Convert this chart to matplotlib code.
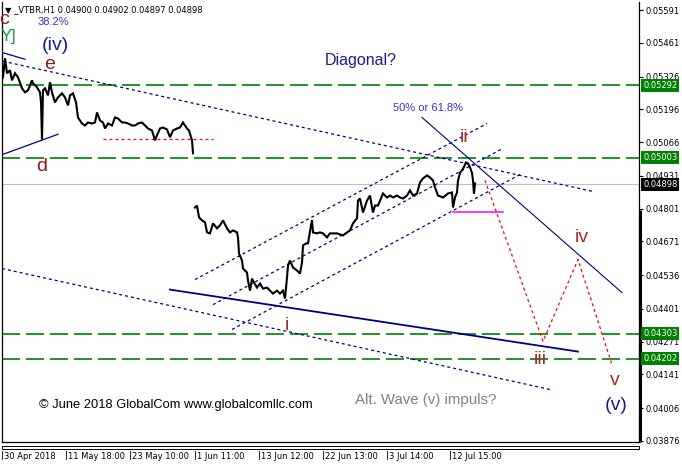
import matplotlib
matplotlib.use('Agg')
import matplotlib.pyplot as plt
from matplotlib.transforms import blended_transform_factory, ScaledTranslation
from matplotlib.patches import Rectangle

plt.rcParams['font.family'] = ['DejaVu Sans']
plt.rcParams['lines.scale_dashes'] = False

# ---------------- data ----------------
title_text = "\u25bc _VTBR,H1 0.04900 0.04902 0.04897 0.04898"

# H1 price path, first block (bar index, price)
bars_a = [3, 5, 7, 10, 12, 15, 18, 22, 25, 28, 32, 33, 37, 40, 41, 42, 43, 45, 48, 50,
          52, 55, 58, 62, 65, 68, 70, 73, 76, 78, 82, 85, 88, 92, 95, 97, 100, 103, 105,
          108, 112, 115, 118, 122, 125, 128, 132, 135, 138, 142, 145, 148, 152, 155, 157,
          160, 163, 167, 170, 173, 177, 180, 183, 187, 189, 192, 193]
price_a = [0.05324, 0.05400, 0.05340, 0.05352, 0.05312, 0.05340, 0.05324, 0.05280, 0.05264,
           0.05272, 0.05312, 0.05300, 0.05284, 0.05264, 0.05224, 0.05077, 0.05272, 0.05280,
           0.05252, 0.05304, 0.05264, 0.05224, 0.05244, 0.05260, 0.05244, 0.05212, 0.05252,
           0.05260, 0.05224, 0.05164, 0.05140, 0.05132, 0.05144, 0.05140, 0.05144, 0.05184,
           0.05152, 0.05144, 0.05120, 0.05140, 0.05132, 0.05164, 0.05160, 0.05144, 0.05144,
           0.05140, 0.05132, 0.05132, 0.05140, 0.05144, 0.05132, 0.05120, 0.05112, 0.05073,
           0.05093, 0.05120, 0.05124, 0.05116, 0.05085, 0.05112, 0.05120, 0.05124, 0.05144,
           0.05120, 0.05112, 0.05073, 0.05021]

# H1 price path, second block
bars_b = [195, 197, 199, 202, 205, 207, 210, 213, 217, 220, 223, 227, 230, 233, 237, 238,
          239, 242, 243, 247, 248, 250, 252, 254, 257, 260, 263, 267, 270, 273, 277, 280,
          283, 285, 287, 288, 290, 293, 297, 300, 302, 303, 306, 308, 311, 312, 313, 317,
          320, 323, 327, 330, 337, 343, 350, 353, 357, 358, 360, 363, 367, 370, 373, 375,
          378, 383, 387, 390, 393, 397, 400, 403, 407, 410, 413, 417, 420, 423, 427, 430,
          433, 435, 438, 443, 448, 452, 453, 455, 457, 458, 460, 463, 466, 468, 470, 472,
          473, 474, 475]
price_b = [0.04805, 0.04813, 0.04766, 0.04754, 0.04746, 0.04706, 0.04702, 0.04742, 0.04722,
           0.04734, 0.04754, 0.04722, 0.04706, 0.04714, 0.04706, 0.04686, 0.04622, 0.04594,
           0.04562, 0.04546, 0.04514, 0.04474, 0.04522, 0.04506, 0.04486, 0.04502, 0.04482,
           0.04486, 0.04474, 0.04462, 0.04474, 0.04462, 0.04474, 0.04442, 0.04526, 0.04574,
           0.04594, 0.04566, 0.04554, 0.04542, 0.04586, 0.04654, 0.04662, 0.04662, 0.04734,
           0.04754, 0.04706, 0.04702, 0.04706, 0.04702, 0.04686, 0.04702, 0.04702, 0.04694,
           0.04714, 0.04742, 0.04762, 0.04833, 0.04841, 0.04785, 0.04833, 0.04853, 0.04785,
           0.04813, 0.04813, 0.04861, 0.04845, 0.04853, 0.04845, 0.04853, 0.04845, 0.04841,
           0.04853, 0.04873, 0.04853, 0.04861, 0.04905, 0.04921, 0.04933, 0.04925, 0.04913,
           0.04885, 0.04853, 0.04845, 0.04861, 0.04865, 0.04805, 0.04845, 0.04865, 0.04913,
           0.04943, 0.04959, 0.04985, 0.04981, 0.04965, 0.04943, 0.04913, 0.04861, 0.04901]

price_ticks = [0.05591, 0.05461, 0.05326, 0.05196, 0.05066, 0.04931, 0.04801, 0.04671,
               0.04536, 0.04401, 0.04271, 0.04141, 0.04006, 0.03876]
time_tick_bars = [2, 66, 130, 195, 259, 323, 387, 450]
time_tick_labels = ["30 Apr 2018", "11 May 18:00", "23 May 10:00", "1 Jun 11:00",
                    "13 Jun 12:00", "22 Jun 13:00", "3 Jul 14:00", "12 Jul 15:00"]

level_prices = [0.05292, 0.05003, 0.04303, 0.04202]
current_price = 0.04898

# trend lines: (bar1, price1, bar2, price2)
dotted_lines = [
    (3, 0.05388, 593, 0.04869),
    (195, 0.04518, 487, 0.05140),
    (213, 0.04418, 503, 0.05041),
    (232, 0.04319, 522, 0.04941),
    (2, 0.04562, 550, 0.04080),
]
solid_lines = [
    (3, 0.05017, 58, 0.05097),
    (2, 0.05423, 25, 0.05396),
    (170, 0.04478, 578, 0.04231),
    (422, 0.05164, 622, 0.04466),
]
solid_widths = [0.9, 0.9, 1.3, 0.8]

magenta_line = (453, 0.04789, 503, 0.04789)
red_hline = (103, 0.05077, 213, 0.05077)
proj_bars = [485, 543, 578, 612]
proj_prices = [0.04913, 0.04272, 0.04598, 0.04179]
scroll_mark_top = 0.04795

# labels: (text, bar, price)
wave_labels = [
    ("c", 4, 0.05555), ("e", 50, 0.05376), ("d", 42, 0.04969),
    ("ii", 464, 0.05085), ("iv", 582, 0.04686), ("i", 287, 0.04335),
    ("iii", 540, 0.04199), ("v", 615, 0.04116),
]
degree_labels = [("(iv)", 55, 0.05451), ("(v)", 616, 0.04016)]
other_labels = [
    ("38.2%", 53, 0.05543), ("Y]", 8, 0.05487), ("Diagonal?", 361, 0.05392),
    ("50% or 61.8%", 428, 0.05200),
    ("\u00a9 June 2018 GlobalCom www.globalcomllc.com", 176, 0.04020),
    ("Alt. Wave (v) impuls?", 426, 0.04040),
]

# ---------------- styles ----------------
NAVY = '#000080'
GREEN = '#008000'
BROWN = '#A52A2A'
MAROON = '#8B1A1A'
PX = 0.72  # points per pixel at 100 dpi
other_styles = {
    "38.2%": ('#3535C8', 8), "Y]": ('#129A45', 12), "Diagonal?": ('#1C1C8C', 11.5),
    "50% or 61.8%": ('#3535C8', 8),
    "\u00a9 June 2018 GlobalCom www.globalcomllc.com": ('black', 9.3),
    "Alt. Wave (v) impuls?": ('#808080', 10.8),
}

W, H = 682, 469
fig = plt.figure(figsize=(W / 100, H / 100), dpi=100)
left_px, right_px, top_px, bot_px = 2, 639, 2, 442
ax = fig.add_axes([left_px / W, 1 - bot_px / H, (right_px - left_px) / W, (bot_px - top_px) / H])
k = 3.985e-5
ax.set_xlim(left_px, right_px)
ax.set_ylim(0.05591 - (bot_px - 10.3) * k, 0.05591 + (10.3 - top_px) * k)

# level lines
for p in level_prices:
    ax.axhline(p, color=GREEN, lw=1.2, dashes=(18 * PX, 6 * PX), zorder=2)
ax.axhline(current_price, color='#C0C0C0', lw=0.8, zorder=1)

# trend lines
for (b1, p1, b2, p2) in dotted_lines:
    ax.plot([b1, b2], [p1, p2], color=NAVY, lw=0.9, dashes=(3 * PX, 3 * PX), zorder=3)
for (b1, p1, b2, p2), w in zip(solid_lines, solid_widths):
    ax.plot([b1, b2], [p1, p2], color=NAVY, lw=w, zorder=3)
ax.plot(magenta_line[0::2], magenta_line[1::2], color='#FF00FF', lw=1.1, zorder=3)
ax.plot(red_hline[0::2], red_hline[1::2], color='#FF0000', lw=0.9, dashes=(3 * PX, 3 * PX), zorder=3)
ax.plot(proj_bars, proj_prices, color='#FF0000', lw=0.9, dashes=(3 * PX, 3 * PX), zorder=3)

# price
ax.plot(bars_a, price_a, color='black', lw=1.5, zorder=4, solid_joinstyle='miter')
ax.plot(bars_b, price_b, color='black', lw=1.5, zorder=4, solid_joinstyle='miter')

# texts
lab_font = 'Liberation Sans'
for t, b, p in wave_labels:
    c = MAROON if t in ('c', 'd', 'e') else BROWN
    ax.text(b, p, t, color=c, fontsize=14, family=lab_font, ha='center', va='center', zorder=6)
for t, b, p in degree_labels:
    ax.text(b, p, t, color='#1C1C8C', fontsize=14, family=lab_font, ha='center', va='center', zorder=6)
for t, b, p in other_labels:
    c, s = other_styles[t]
    ax.text(b, p, t, color=c, fontsize=s, family=lab_font, ha='center', va='center', zorder=6)

# axes styling
ax.spines['top'].set_visible(False)
for s in ('left', 'right', 'bottom'):
    ax.spines[s].set_linewidth(0.9)
    ax.spines[s].set_color('black')
ax.yaxis.tick_right()
ax.set_yticks(price_ticks)
ax.set_yticklabels(['%.5f' % v for v in price_ticks])
ax.tick_params(axis='y', length=3, width=0.8, pad=1.5, labelsize=6, direction='out')
ax.set_xticks(time_tick_bars)
ax.set_xticklabels(time_tick_labels)
ax.tick_params(axis='x', length=0, pad=7.5, labelsize=6)
shift = ScaledTranslation(2 / 100, 0, fig.dpi_scale_trans)
for lab in ax.get_xticklabels():
    lab.set_ha('left')
    lab.set_transform(lab.get_transform() + shift)
bt = blended_transform_factory(ax.transData, ax.transAxes)
for b in time_tick_bars:
    ax.plot([b, b], [-(451 - bot_px) / 440, -(459 - bot_px) / 440], color='black', lw=0.6,
            transform=bt, clip_on=False)

# thick lower part of right border
rb = blended_transform_factory(ax.transAxes, ax.transData)
ax.plot([1.0015, 1.0015], [ax.get_ylim()[0], scroll_mark_top], color='black', lw=2.2, transform=rb,
        clip_on=False, solid_capstyle='butt', zorder=5)

# level price boxes
box_tr = rb + ScaledTranslation(4 / 100, 0, fig.dpi_scale_trans)
for p in level_prices:
    ax.text(1.0, p, '%.5f' % p, transform=box_tr, fontsize=6, color='white', ha='left',
            va='center', clip_on=False, zorder=7,
            bbox=dict(boxstyle='square,pad=0.25', fc=GREEN, ec='none'))
ax.text(1.0, current_price, '%.5f' % current_price, transform=box_tr, fontsize=6, color='white',
        ha='left', va='center', clip_on=False, zorder=7,
        bbox=dict(boxstyle='square,pad=0.25', fc='black', ec='none'))

# scrollbar-like double bottom frame
fig.add_artist(Rectangle((left_px / W, 1 - 449 / H), (right_px - left_px) / W, 3 / H,
                         fill=False, ec='black', lw=0.7, transform=fig.transFigure))

fig.text(5 / W, 1 - 10 / H, title_text, fontsize=6, va='center', ha='left', color='black')

fig.savefig('out.png', dpi=100)
